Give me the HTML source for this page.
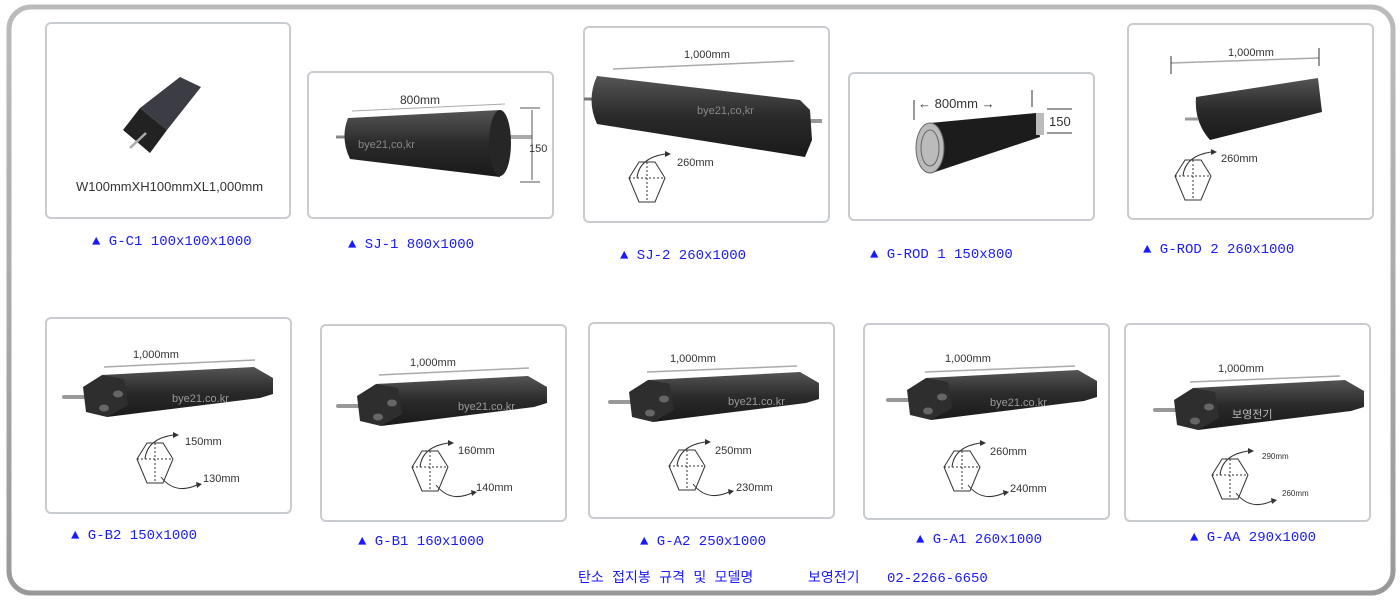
<!DOCTYPE html>
<html><head><meta charset="utf-8"><style>
html,body{margin:0;padding:0;background:#fff}
svg{display:block}
.lb{font-family:"Liberation Mono","Noto Sans CJK KR",monospace;font-size:14px;fill:#1a1aff}
.dm{font-family:"Liberation Sans",sans-serif;font-size:11px;fill:#333}
.wm{font-family:"Liberation Sans",sans-serif;font-size:11px;fill:#888}
</style></head><body>
<svg width="1400" height="600" viewBox="0 0 1400 600" xmlns="http://www.w3.org/2000/svg">
<defs>
<linearGradient id="dk" x1="0" y1="0" x2="0" y2="1"><stop offset="0" stop-color="#555"/><stop offset="0.5" stop-color="#2a2a2a"/><stop offset="1" stop-color="#1a1a1a"/></linearGradient>
<linearGradient id="fr" x1="0" y1="0" x2="0" y2="1"><stop offset="0" stop-color="#bbb"/><stop offset="1" stop-color="#999"/></linearGradient>
<g id="hex">
<polygon points="-18,-8 -8,-24 8,-24 18,-8 8,16 -8,16" fill="#fff" stroke="#333" stroke-width="1"/>
<line x1="-18" y1="-8" x2="18" y2="-8" stroke="#333" stroke-dasharray="2,2"/>
<line x1="0" y1="-24" x2="0" y2="16" stroke="#333" stroke-dasharray="2,2"/>
<path d="M-10,-8 Q-8,-28 18,-32" fill="none" stroke="#333"/>
<polygon points="18,-35 24,-32 18,-29" fill="#333"/>
</g>
<g id="hex2">
<use href="#hex"/>
<path d="M6,10 Q20,28 42,18" fill="none" stroke="#333"/>
<polygon points="41,15 47,17 42,21" fill="#333"/>
</g>
<g id="bar">
<line x1="2" y1="30" x2="46" y2="30" stroke="#999" stroke-width="4" stroke-linecap="round"/>
<polygon points="40,8 192,0 211,11 211,27 198,31 45,50" fill="url(#dk)"/>
<polygon points="21,20 40,8 62,12 66,38 45,50 24,45" fill="#2e2e2e"/>
<ellipse cx="56" cy="27" rx="5" ry="3.5" fill="#666"/>
<ellipse cx="42" cy="41" rx="5" ry="3.5" fill="#666"/>
</g>
</defs>
<rect x="9" y="7" width="1384" height="586" rx="22" fill="#fff" stroke="url(#fr)" stroke-width="5"/>
<g fill="#fff" stroke="#c8ccd0" stroke-width="2">
<rect x="46" y="23" width="244" height="195" rx="5"/>
<rect x="308" y="72" width="245" height="146" rx="5"/>
<rect x="584" y="27" width="245" height="195" rx="5"/>
<rect x="849" y="73" width="245" height="147" rx="5"/>
<rect x="1128" y="24" width="245" height="195" rx="5"/>
<rect x="46" y="318" width="245" height="195" rx="5"/>
<rect x="321" y="325" width="245" height="196" rx="5"/>
<rect x="589" y="323" width="245" height="195" rx="5"/>
<rect x="864" y="324" width="245" height="195" rx="5"/>
<rect x="1125" y="324" width="245" height="197" rx="5"/>
</g>
<!-- G-C1 -->
<polygon points="140,108 180,77 201,87 167,130" fill="#3c3c44"/>
<polygon points="123,130 140,108 167,130 150,153" fill="#222"/>
<line x1="130" y1="148" x2="146" y2="133" stroke="#aaa" stroke-width="2.5"/>
<text x="76" y="191" class="dm" style="font-size:13px">W100mmXH100mmXL1,000mm</text>
<!-- SJ-1 -->
<line x1="336" y1="137" x2="350" y2="137" stroke="#888" stroke-width="3"/>
<line x1="505" y1="137" x2="532" y2="137" stroke="#aaa" stroke-width="4"/>
<path d="M348,118 L500,110 L500,177 L350,159 Q340,138 348,118 Z" fill="url(#dk)"/>
<ellipse cx="500" cy="143" rx="11" ry="33" fill="#262626"/>
<line x1="352" y1="111" x2="505" y2="104" stroke="#aaa"/>
<text x="400" y="104" class="dm" style="font-size:12px">800mm</text>
<line x1="520" y1="108" x2="540" y2="108" stroke="#555"/><line x1="520" y1="182" x2="540" y2="182" stroke="#555"/>
<line x1="532" y1="110" x2="532" y2="180" stroke="#555"/>
<text x="529" y="152" class="dm" style="font-size:11px">150</text>
<text x="358" y="148" class="wm">bye21,co,kr</text>
<!-- SJ-2 -->
<line x1="613" y1="69" x2="794" y2="61" stroke="#aaa" stroke-width="1.5"/>
<text x="684" y="58" class="dm" style="font-size:11px">1,000mm</text>
<line x1="584" y1="99" x2="594" y2="99" stroke="#777" stroke-width="3"/>
<line x1="805" y1="121" x2="822" y2="121" stroke="#999" stroke-width="4"/>
<path d="M597,76 L800,100 L810,110 L812,140 L805,157 L597,124 Q586,100 597,76 Z" fill="url(#dk)"/>
<text x="697" y="114" class="wm">bye21,co,kr</text>
<use href="#hex" x="647" y="186"/>
<text x="677" y="166" class="dm">260mm</text>
<!-- G-ROD 1 -->
<path d="M930,123 L1036,113 L1040,137 L932,173 Z" fill="#1c1c1c"/>
<rect x="1036" y="113" width="8" height="22" fill="#bbb"/>
<ellipse cx="930" cy="148" rx="14" ry="25" fill="#bbb" stroke="#666"/>
<ellipse cx="930" cy="148" rx="9" ry="18" fill="none" stroke="#666"/>
<text x="918" y="108" class="dm" style="font-size:13px">←  800mm  →</text>
<line x1="914" y1="100" x2="914" y2="120" stroke="#333"/>
<line x1="1032" y1="90" x2="1032" y2="107" stroke="#333"/>
<line x1="1047" y1="109" x2="1072" y2="109" stroke="#333"/>
<line x1="1047" y1="133" x2="1072" y2="133" stroke="#333"/>
<text x="1049" y="126" class="dm" style="font-size:13px">150</text>
<!-- G-ROD 2 -->
<line x1="1171" y1="63" x2="1319" y2="58" stroke="#aaa" stroke-width="1.5"/>
<line x1="1171" y1="56" x2="1171" y2="74" stroke="#333"/><line x1="1319" y1="48" x2="1319" y2="66" stroke="#333"/>
<text x="1228" y="56" class="dm">1,000mm</text>
<path d="M1196,97 L1318,78 L1322,112 L1210,140 Q1194,122 1196,97 Z" fill="url(#dk)"/>
<line x1="1185" y1="119" x2="1198" y2="119" stroke="#999" stroke-width="3"/>
<use href="#hex" x="1193" y="184"/>
<text x="1221" y="162" class="dm">260mm</text>
<!-- Row 2 -->
<g transform="translate(62,367)"><use href="#bar"/></g>
<line x1="104" y1="367" x2="255" y2="360" stroke="#aaa" stroke-width="1.5"/>
<text x="133" y="358" class="dm">1,000mm</text>
<text x="172" y="402" class="wm" style="fill:#999">bye21.co.kr</text>
<use href="#hex2" x="155" y="467"/>
<text x="185" y="445" class="dm">150mm</text><text x="203" y="482" class="dm">130mm</text>

<g transform="translate(336,376)"><use href="#bar"/></g>
<line x1="379" y1="375" x2="529" y2="368" stroke="#aaa" stroke-width="1.5"/>
<text x="410" y="366" class="dm">1,000mm</text>
<text x="458" y="410" class="wm" style="fill:#999">bye21.co.kr</text>
<use href="#hex2" x="430" y="475"/>
<text x="458" y="454" class="dm">160mm</text><text x="476" y="491" class="dm">140mm</text>

<g transform="translate(608,372)"><use href="#bar"/></g>
<line x1="647" y1="372" x2="797" y2="366" stroke="#aaa" stroke-width="1.5"/>
<text x="670" y="362" class="dm">1,000mm</text>
<text x="728" y="405" class="wm" style="fill:#999">bye21.co.kr</text>
<use href="#hex2" x="687" y="474"/>
<text x="715" y="454" class="dm">250mm</text><text x="736" y="491" class="dm">230mm</text>

<g transform="translate(886,370)"><use href="#bar"/></g>
<line x1="925" y1="372" x2="1075" y2="366" stroke="#aaa" stroke-width="1.5"/>
<text x="945" y="362" class="dm">1,000mm</text>
<text x="990" y="406" class="wm" style="fill:#999">bye21.co.kr</text>
<use href="#hex2" x="962" y="475"/>
<text x="990" y="455" class="dm">260mm</text><text x="1010" y="492" class="dm">240mm</text>

<g transform="translate(1153,380)"><use href="#bar"/></g>
<line x1="1190" y1="382" x2="1340" y2="376" stroke="#aaa" stroke-width="1.5"/>
<text x="1218" y="372" class="dm">1,000mm</text>
<text x="1232" y="418" class="wm" style="fill:#bbb;font-family:'Noto Sans CJK KR',sans-serif">보영전기</text>
<use href="#hex2" x="1230" y="483"/>
<text x="1262" y="459" class="dm" style="font-size:8px">290mm</text><text x="1282" y="496" class="dm" style="font-size:8px">260mm</text>

<!-- labels -->
<g class="lb">
<text x="92" y="245">▲ G-C1 100x100x1000</text>
<text x="348" y="248">▲ SJ-1 800x1000</text>
<text x="620" y="259">▲ SJ-2 260x1000</text>
<text x="870" y="258">▲ G-ROD 1 150x800</text>
<text x="1143" y="253">▲ G-ROD 2 260x1000</text>
<text x="71" y="539">▲ G-B2 150x1000</text>
<text x="358" y="545">▲ G-B1 160x1000</text>
<text x="640" y="545">▲ G-A2 250x1000</text>
<text x="916" y="543">▲ G-A1 260x1000</text>
<text x="1190" y="541">▲ G-AA 290x1000</text>
<text x="578" y="582">탄소 접지봉 규격 및 모델명</text>
<text x="808" y="582">보영전기</text>
<text x="887" y="582">02-2266-6650</text>
</g>
</svg>
</body></html>
